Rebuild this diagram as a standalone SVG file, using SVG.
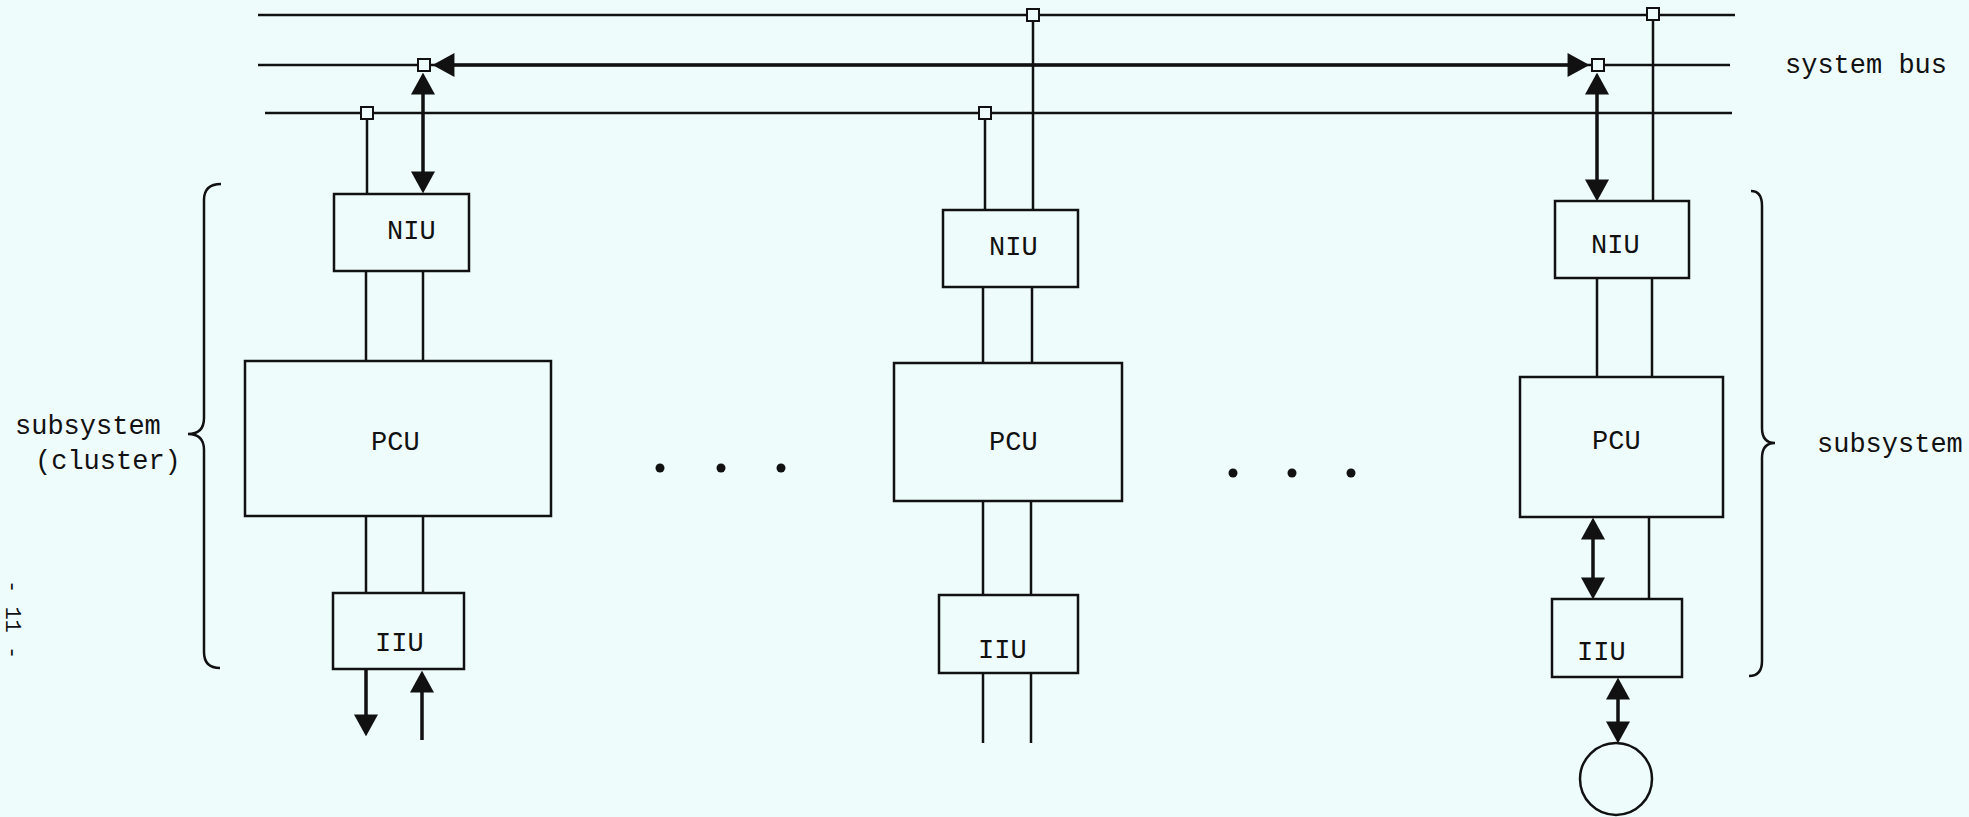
<svg xmlns="http://www.w3.org/2000/svg" width="1969" height="817" viewBox="0 0 1969 817">
<style>
.bg{fill:#effcfc}
.bus{stroke:#111;stroke-width:2.5;fill:none}
.ln{stroke:#111;stroke-width:2.5;fill:none}
.thick{stroke:#111;stroke-width:3.5;fill:none;marker-start:url(#ah);marker-end:url(#ah)}
.single{stroke:#111;stroke-width:3.5;fill:none;marker-end:url(#ah)}
.box{fill:none;stroke:#111;stroke-width:2.5}
.sq{fill:#effcfc;stroke:#111;stroke-width:2}
.t{font-family:"Liberation Mono","Courier New",monospace;font-size:27px;fill:#111}
.dot{fill:#111}
.brace{fill:none;stroke:#111;stroke-width:2.5}
</style>
<defs>
<marker id="ah" markerUnits="userSpaceOnUse" markerWidth="22" markerHeight="24" viewBox="0 0 20 22" refX="16" refY="11" orient="auto-start-reverse">
<path d="M0,0 L20,11 L0,22 z" fill="#111"/>
</marker>
</defs>
<rect class="bg" x="0" y="0" width="1969" height="817"/>

<g id="system-bus">
<line class="bus" x1="258" y1="15" x2="1735" y2="15"/>
<line class="bus" x1="258" y1="65" x2="1730" y2="65"/>
<line class="bus" x1="265" y1="113" x2="1732" y2="113"/>
<text class="t" x="1785" y="73">system bus</text>
</g>

<g id="connectors">
<!-- bus transfer arrow -->
<line class="thick" x1="437" y1="65" x2="1585" y2="65"/>
<!-- left cluster -->
<line class="thick" x1="423" y1="77" x2="423" y2="189"/>
<line class="ln" x1="367" y1="119" x2="367" y2="194"/>
<line class="ln" x1="366" y1="271" x2="366" y2="361"/>
<line class="ln" x1="423" y1="271" x2="423" y2="361"/>
<line class="ln" x1="366" y1="516" x2="366" y2="593"/>
<line class="ln" x1="423" y1="516" x2="423" y2="593"/>
<line class="single" x1="366" y1="669" x2="366" y2="732"/>
<line class="single" x1="422" y1="740" x2="422" y2="675"/>
<!-- middle cluster -->
<line class="ln" x1="985" y1="119" x2="985" y2="210"/>
<line class="ln" x1="1033" y1="21" x2="1033" y2="210"/>
<line class="ln" x1="983" y1="287" x2="983" y2="363"/>
<line class="ln" x1="1032" y1="287" x2="1032" y2="363"/>
<line class="ln" x1="983" y1="501" x2="983" y2="595"/>
<line class="ln" x1="1031" y1="501" x2="1031" y2="595"/>
<line class="ln" x1="983" y1="673" x2="983" y2="743"/>
<line class="ln" x1="1031" y1="673" x2="1031" y2="743"/>
<!-- right cluster -->
<line class="ln" x1="1653" y1="20" x2="1653" y2="201"/>
<line class="thick" x1="1597" y1="77" x2="1597" y2="197"/>
<line class="ln" x1="1597" y1="278" x2="1597" y2="377"/>
<line class="ln" x1="1652" y1="278" x2="1652" y2="377"/>
<line class="thick" x1="1593" y1="522" x2="1593" y2="595"/>
<line class="ln" x1="1649" y1="517" x2="1649" y2="599"/>
<line class="thick" x1="1618" y1="682" x2="1618" y2="739"/>
</g>

<g id="junctions">
<rect class="sq" x="418" y="59" width="12" height="12"/>
<rect class="sq" x="361" y="107" width="12" height="12"/>
<rect class="sq" x="1027" y="9" width="12" height="12"/>
<rect class="sq" x="979" y="107" width="12" height="12"/>
<rect class="sq" x="1647" y="8" width="12" height="12"/>
<rect class="sq" x="1592" y="59" width="12" height="12"/>
</g>

<g id="niu-1"><rect class="box" x="334" y="194" width="135" height="77"/><text class="t" x="387" y="239">NIU</text></g>
<g id="pcu-1"><rect class="box" x="245" y="361" width="306" height="155"/><text class="t" x="371" y="450">PCU</text></g>
<g id="iiu-1"><rect class="box" x="333" y="593" width="131" height="76"/><text class="t" x="375" y="651">IIU</text></g>

<g id="niu-2"><rect class="box" x="943" y="210" width="135" height="77"/><text class="t" x="989" y="255">NIU</text></g>
<g id="pcu-2"><rect class="box" x="894" y="363" width="228" height="138"/><text class="t" x="989" y="450">PCU</text></g>
<g id="iiu-2"><rect class="box" x="939" y="595" width="139" height="78"/><text class="t" x="978" y="658">IIU</text></g>

<g id="niu-3"><rect class="box" x="1555" y="201" width="134" height="77"/><text class="t" x="1591" y="253">NIU</text></g>
<g id="pcu-3"><rect class="box" x="1520" y="377" width="203" height="140"/><text class="t" x="1592" y="449">PCU</text></g>
<g id="iiu-3"><rect class="box" x="1552" y="599" width="130" height="78"/><text class="t" x="1577" y="660">IIU</text></g>
<g id="device"><circle class="box" cx="1616" cy="779" r="36"/></g>

<g id="ellipsis-1">
<circle class="dot" cx="660" cy="468" r="4.5"/>
<circle class="dot" cx="721" cy="468" r="4.5"/>
<circle class="dot" cx="781" cy="468" r="4.5"/>
</g>
<g id="ellipsis-2">
<circle class="dot" cx="1233" cy="473" r="4.5"/>
<circle class="dot" cx="1292" cy="473" r="4.5"/>
<circle class="dot" cx="1351" cy="473" r="4.5"/>
</g>

<g id="brace-left">
<path class="brace" d="M221,184 Q204,184 204,200 L204,418 Q204,434 188,434 Q204,434 204,450 L204,652 Q204,668 220,668"/>
<text class="t" x="15" y="434">subsystem</text>
<text class="t" x="35" y="469">(cluster)</text>
</g>
<g id="brace-right">
<path class="brace" d="M1751,191 Q1762,191 1762,206 L1762,428 Q1762,443 1775,443 Q1762,443 1762,458 L1762,661 Q1762,676 1749,676"/>
<text class="t" x="1817" y="452">subsystem</text>
</g>

<g id="page-number">
<text class="t" style="font-size:22px" transform="translate(6,580) rotate(90)">- 11 -</text>
</g>
</svg>
